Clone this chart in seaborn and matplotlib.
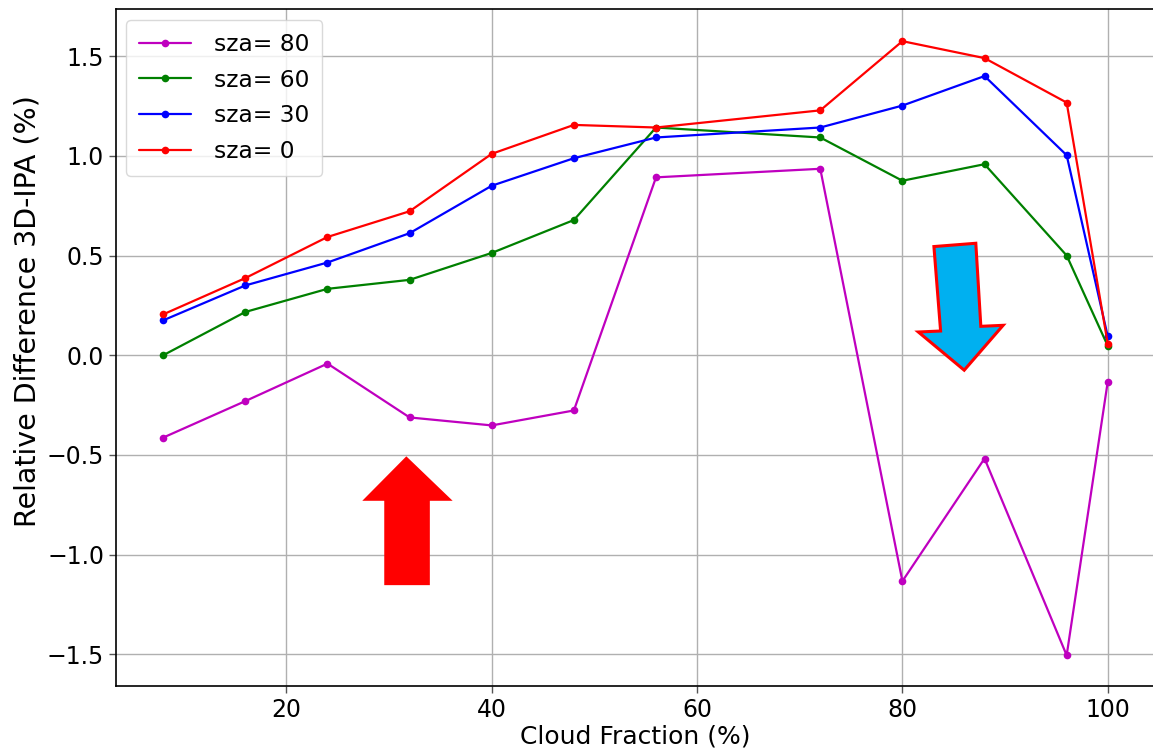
import numpy as np
import pandas as pd
import matplotlib
matplotlib.use("Agg")
import matplotlib.pyplot as plt
from matplotlib.patches import Polygon
import seaborn as sns

# Cloud fraction bins (%)
cloud_fraction = [8, 16, 24, 32, 40, 48, 56, 72, 80, 88, 96, 100]

# Relative difference 3D-IPA (%) per solar zenith angle
sza_80 = [-0.413, -0.230, -0.042, -0.312, -0.352, -0.277, 0.892, 0.935, -1.133, -0.518, -1.505, -0.133]
sza_60 = [0.000, 0.217, 0.333, 0.378, 0.513, 0.678, 1.142, 1.092, 0.875, 0.958, 0.500, 0.047]
sza_30 = [0.175, 0.350, 0.465, 0.612, 0.850, 0.988, 1.092, 1.142, 1.252, 1.400, 1.003, 0.095]
sza_0 = [0.205, 0.387, 0.593, 0.722, 1.010, 1.155, 1.142, 1.228, 1.575, 1.490, 1.267, 0.058]

series_labels = ["sza= 80", "sza= 60", "sza= 30", "sza= 0"]
series_values = [sza_80, sza_60, sza_30, sza_0]
series_colors = ["#bf00bf", "#008000", "#0000ff", "#ff0000"]

sns.set_theme(style="ticks", color_codes=False)
plt.rcParams["font.family"] = ["DejaVu Sans"]
plt.rcParams["text.color"] = "black"
plt.rcParams["axes.labelcolor"] = "black"
plt.rcParams["xtick.color"] = "black"
plt.rcParams["ytick.color"] = "black"

fig = plt.figure(figsize=(11.53, 7.51), dpi=100)
ax = fig.add_axes([0.1006, 0.0865, 0.9011, 0.9009])

for label, vals, col in zip(series_labels, series_values, series_colors):
    df = pd.DataFrame({"cf": cloud_fraction, "rd": vals})
    sns.lineplot(data=df, x="cf", y="rd", color=col, marker="o",
                 markersize=5.5, markeredgewidth=0, linewidth=1.6,
                 label=label, ax=ax)

ax.grid(True, color="#b0b0b0", linewidth=1)
ax.set_axisbelow(True)
ax.set_xlabel("Cloud Fraction (%)", fontsize=18, labelpad=2)
ax.set_ylabel("Relative Difference 3D-IPA (%)", fontsize=20.5)
ax.yaxis.set_label_coords(-0.072, 0.554)
ax.tick_params(axis="both", labelsize=17, length=5, width=1, color="#555555")
for s in ax.spines.values():
    s.set_color("black")
    s.set_linewidth(1.2)

leg = ax.legend(loc="upper left", fontsize=16.8, frameon=True, handlelength=2.2,
                borderaxespad=0.45, borderpad=0.55, labelspacing=0.55,
                handletextpad=1.0)
leg.get_frame().set_edgecolor("#d0d0d0")

# Annotation arrows
up_arrow = Polygon([(31.68, -0.507), (36.19, -0.73), (33.97, -0.73), (33.97, -1.153),
                    (29.53, -1.153), (29.53, -0.73), (27.39, -0.73)],
                   closed=True, facecolor="#ff0000", edgecolor="none", zorder=4)
down_arrow = Polygon([(83.07, 0.545), (87.15, 0.5615), (87.64, 0.145), (89.81, 0.15),
                      (86.02, -0.075), (81.55, 0.1165), (83.72, 0.1215)],
                     closed=True, facecolor="#00b0f0", edgecolor="#ff0000",
                     linewidth=2.2, joinstyle="miter", zorder=4)
ax.add_patch(up_arrow)
ax.add_patch(down_arrow)

ax.set_xlim(3.4, 104.6)
ax.set_ylim(-1.659, 1.734)

fig.savefig("out.png", dpi=100)
